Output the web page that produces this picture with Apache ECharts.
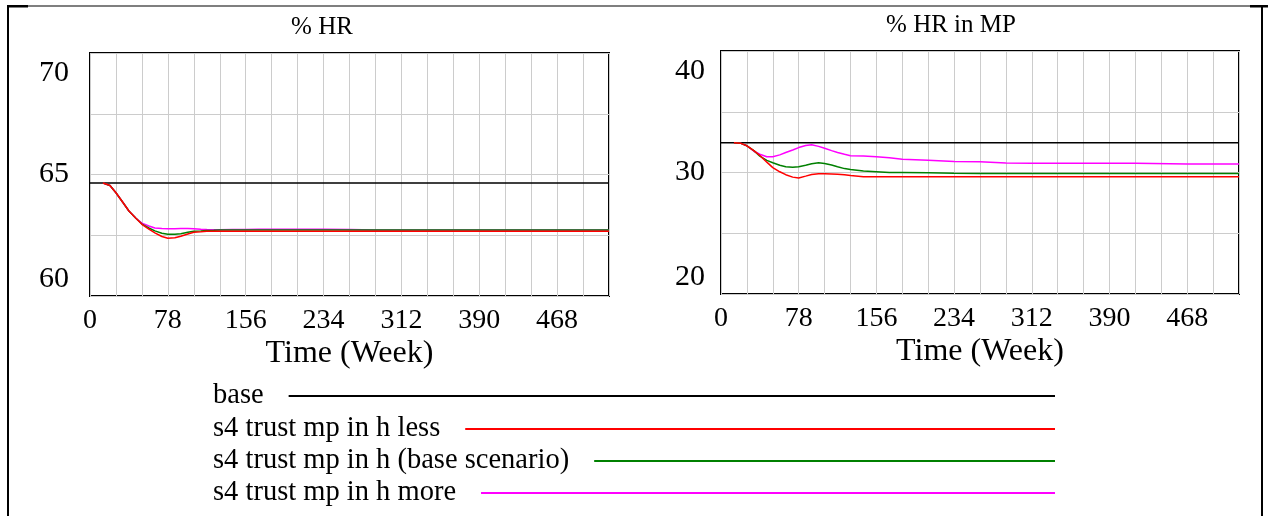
<!DOCTYPE html>
<html>
<head>
<meta charset="utf-8">
<script src="https://cdn.jsdelivr.net/npm/echarts@6/dist/echarts.min.js"></script>
<style>
  html, body { margin: 0; padding: 0; background: #fff; }
  #chart { width: 1268px; height: 516px; }
</style>
</head>
<body>
<div id="chart"></div>
<script>
// Simulation output sampled in weeks
const weeks = [0, 13, 20, 26, 33, 39, 46, 52, 59, 65, 72, 78, 85, 91, 98, 104, 111, 117, 124, 130,
  143, 156, 169, 182, 208, 234, 260, 286, 312, 364, 416, 468, 520];

const seriesNames = ['base', 's4 trust mp in h less', 's4 trust mp in h (base scenario)', 's4 trust mp in h more'];
const seriesColors = ['#000000', '#ff0000', '#008000', '#ff00ff'];
// stacking order of the runs (higher draws on top)
const seriesZ = [3, 6, 5, 4];

// % HR
const hrBase = weeks.map(() => 64.65);
const hrLess = [null, 64.65, 64.55, 64.25, 63.85, 63.5, 63.2, 62.95, 62.75, 62.6, 62.45, 62.38, 62.4, 62.46,
  62.55, 62.62, 62.64, 62.66, 62.66, 62.66, 62.66, 62.66, 62.66, 62.66, 62.66, 62.66, 62.66, 62.66,
  62.66, 62.66, 62.66, 62.66, 62.66];
const hrMid = [null, 64.65, 64.55, 64.25, 63.85, 63.5, 63.2, 62.96, 62.8, 62.68, 62.58, 62.54, 62.54, 62.56,
  62.62, 62.66, 62.68, 62.7, 62.71, 62.72, 62.72, 62.72, 62.72, 62.72, 62.72, 62.72, 62.72, 62.72,
  62.72, 62.72, 62.72, 62.72, 62.72];
const hrMore = [null, 64.65, 64.55, 64.25, 63.85, 63.5, 63.2, 63.0, 62.88, 62.8, 62.78, 62.77, 62.77, 62.78,
  62.78, 62.77, 62.75, 62.74, 62.73, 62.73, 62.74, 62.74, 62.75, 62.75, 62.75, 62.75, 62.74, 62.72,
  62.72, 62.72, 62.72, 62.72, 62.72];

// % HR in MP
const mpBase = weeks.map(() => 32.45);
const mpLess = [null, 32.45, 32.4, 32.2, 31.8, 31.4, 30.85, 30.4, 30.06, 29.82, 29.62, 29.54, 29.7, 29.84,
  29.9, 29.9, 29.88, 29.86, 29.82, 29.75, 29.66, 29.66, 29.66, 29.66, 29.66, 29.66, 29.66, 29.66,
  29.66, 29.66, 29.66, 29.66, 29.66];
const mpMid = [null, 32.45, 32.4, 32.2, 31.8, 31.35, 31.0, 30.8, 30.6, 30.48, 30.43, 30.48, 30.6, 30.72,
  30.8, 30.74, 30.62, 30.48, 30.32, 30.25, 30.12, 30.06, 30.0, 30.0, 29.98, 29.93, 29.92, 29.92,
  29.92, 29.92, 29.92, 29.92, 29.92];
const mpMore = [null, 32.45, 32.4, 32.2, 31.75, 31.5, 31.3, 31.3, 31.45, 31.65, 31.85, 32.05, 32.22, 32.29,
  32.15, 32.0, 31.8, 31.65, 31.5, 31.38, 31.35, 31.3, 31.22, 31.1, 31.0, 30.9, 30.88, 30.78,
  30.76, 30.76, 30.76, 30.7, 30.7];

const panelTitles = ['% HR', '% HR in MP'];
const xTickStep = 78;
const axisName = 'Time (Week)';

const FONT = '"Liberation Serif", "Times New Roman", serif';
const GRID_LINE = '#cccccc';
const TICK_SIZE = 28;

const chart = echarts.init(document.getElementById('chart'), null, { renderer: 'canvas' });

const pairs = (vals) => weeks.map((w, i) => [w, vals[i]]);

function makeX(gridIndex) {
  return {
    type: 'value', gridIndex, min: 0, max: 520, interval: 26,
    axisLine: { show: false }, axisTick: { show: false },
    splitLine: { show: true, lineStyle: { color: GRID_LINE, width: 1 } },
    axisLabel: {
      margin: 11, color: '#000', fontFamily: FONT, fontSize: TICK_SIZE,
      formatter: v => (v % xTickStep === 0 ? String(v) : '')
    },
    name: axisName, nameLocation: 'middle', nameGap: 42,
    nameTextStyle: { color: '#000', fontFamily: FONT, fontSize: 32 }
  };
}

function makeY(gridIndex, min, max, interval, labelStep, margin) {
  return {
    type: 'value', gridIndex, min, max, interval,
    axisLine: { show: false }, axisTick: { show: false },
    splitLine: { show: true, lineStyle: { color: GRID_LINE, width: 1 } },
    axisLabel: {
      margin, color: '#000', fontFamily: FONT, fontSize: 30,
      formatter: v => {
        if (Math.abs(v / labelStep - Math.round(v / labelStep)) > 1e-9) return '';
        if (v === max) return '{t|' + v + '}';
        if (v === min) return '{b|' + v + '}';
        return '{m|' + v + '}';
      },
      rich: {
        t: { fontFamily: FONT, fontSize: 30, color: '#000', padding: [40, 0, 0, 0] },
        m: { fontFamily: FONT, fontSize: 30, color: '#000' },
        b: { fontFamily: FONT, fontSize: 30, color: '#000', padding: [0, 0, 33, 0] }
      }
    }
  };
}

const panels = [
  [hrBase, hrLess, hrMid, hrMore],
  [mpBase, mpLess, mpMid, mpMore]
];

const series = [];
panels.forEach((set, p) => {
  set.forEach((vals, k) => {
    series.push({
      name: seriesNames[k], type: 'line', xAxisIndex: p, yAxisIndex: p,
      data: pairs(vals), showSymbol: false, symbol: 'none',
      connectNulls: false, silent: true,
      lineStyle: { color: seriesColors[k], width: 1.5 },
      itemStyle: { color: seriesColors[k] },
      z: seriesZ[k]
    });
  });
});

// Legend rows: text on the left, a long sample line ending at a common right edge
const LEGEND_SIZE = 28.5;
const legendLeft = 213, legendLineEnd = 1055, legendTextGap = 25;
const legendRows = [396, 429, 461, 493];
const measureCtx = document.createElement('canvas').getContext('2d');
measureCtx.font = LEGEND_SIZE + 'px ' + FONT;
const legends = seriesNames.map((name, k) => {
  const w = measureCtx.measureText(name).width;
  return {
    show: true, left: legendLeft, top: legendRows[k] - 15, padding: 0,
    orient: 'horizontal', align: 'right', selectedMode: false,
    icon: 'rect', itemWidth: Math.max(10, legendLineEnd - legendLeft - w - legendTextGap), itemHeight: 2,
    textStyle: { color: '#000', fontFamily: FONT, fontSize: LEGEND_SIZE, lineHeight: 30, padding: [0, 20, 0, 0] },
    data: [name]
  };
});

chart.setOption({
  animation: false,
  backgroundColor: '#ffffff',
  title: [
    { text: panelTitles[0], left: 322, top: 15, textAlign: 'center', padding: 0,
      textStyle: { color: '#000', fontFamily: FONT, fontSize: 25, fontWeight: 'normal' } },
    { text: panelTitles[1], left: 951, top: 13, textAlign: 'center', padding: 0,
      textStyle: { color: '#000', fontFamily: FONT, fontSize: 25, fontWeight: 'normal' } }
  ],
  grid: [
    { left: 90, top: 53, width: 519, height: 243, show: true, borderColor: '#000', borderWidth: 2, backgroundColor: 'transparent' },
    { left: 721, top: 51, width: 518, height: 243, show: true, borderColor: '#000', borderWidth: 2, backgroundColor: 'transparent' }
  ],
  xAxis: [makeX(0), makeX(1)],
  yAxis: [makeY(0, 60, 70, 2.5, 5, 21), makeY(1, 20, 40, 5, 10, 16)],
  legend: legends,
  series,
  graphic: [
    // page frame
    { type: 'rect', silent: true, shape: { x: 8, y: 5.5, width: 1254, height: 1 }, style: { fill: '#000' } },
    { type: 'rect', silent: true, shape: { x: 7, y: 5, width: 21, height: 2.5 }, style: { fill: '#000' } },
    { type: 'rect', silent: true, shape: { x: 1250, y: 5, width: 18, height: 2.5 }, style: { fill: '#000' } },
    { type: 'rect', silent: true, shape: { x: 7, y: 5, width: 2, height: 511 }, style: { fill: '#000' } },
    { type: 'rect', silent: true, shape: { x: 1261, y: 5, width: 2, height: 511 }, style: { fill: '#000' } }
  ]
});
</script>
</body>
</html>
